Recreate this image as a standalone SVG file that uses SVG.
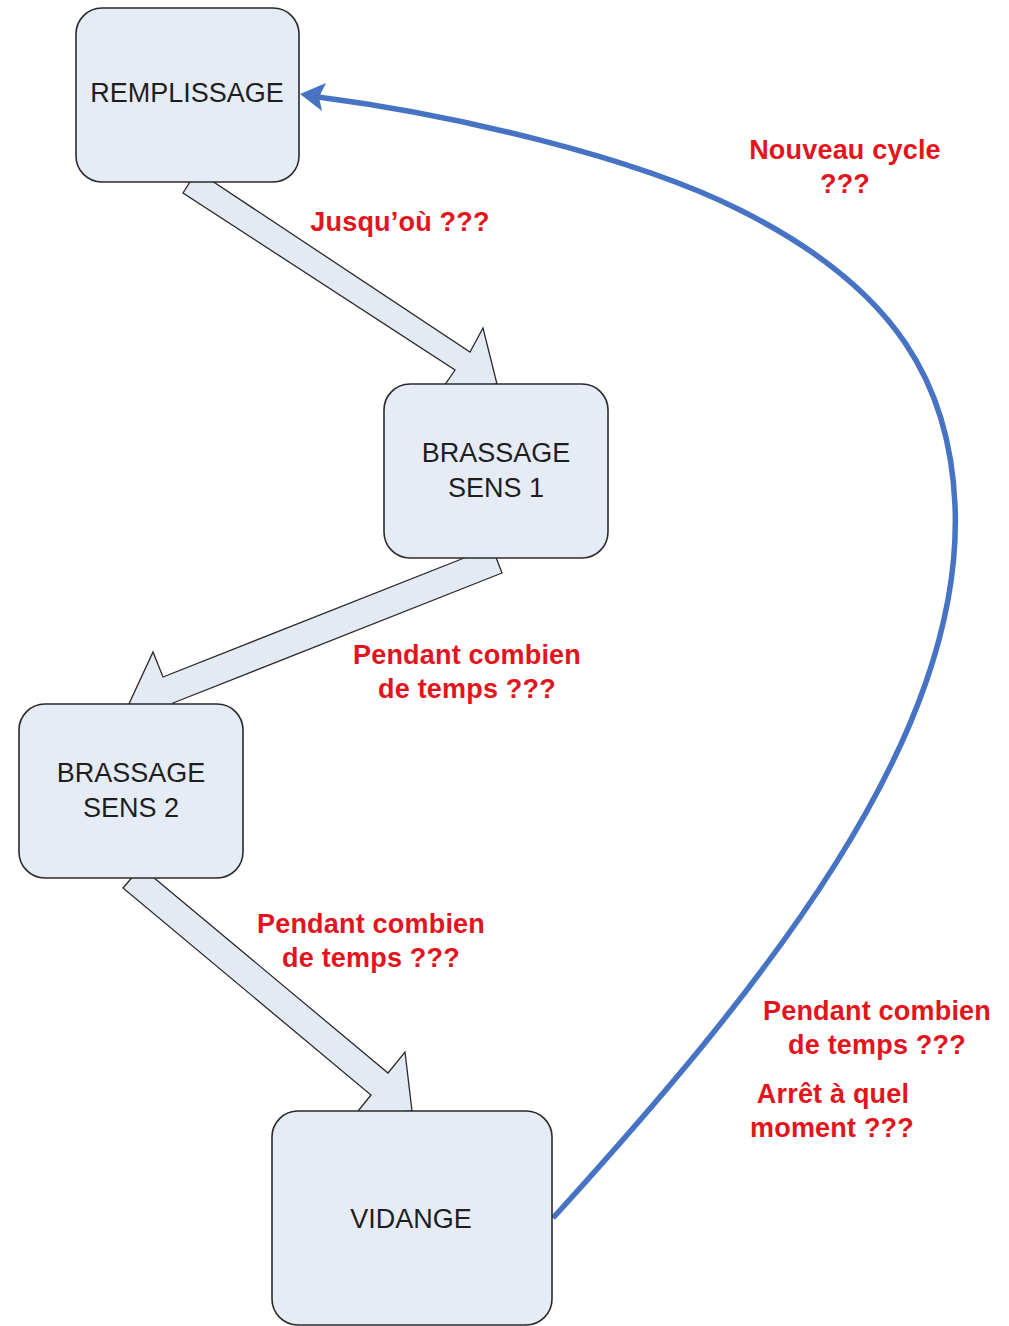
<svg xmlns="http://www.w3.org/2000/svg" width="1009" height="1326" viewBox="0 0 1009 1326">
  <style>
    .box { fill: #E6ECF6; stroke: #2A2A2A; stroke-width: 1.6; }
    .label { font-family: "Liberation Sans", Arial, sans-serif; font-size: 27px; fill: #1E1E1E; text-anchor: middle; }
    .block { fill: #E4EAF4; stroke: #2A2A2A; stroke-width: 1.3; stroke-linejoin: miter; }
    .loop { fill: none; stroke: #4673C3; stroke-width: 5.5; }
    .head { fill: #4673C3; }
    .note { font-family: "Liberation Sans", Arial, sans-serif; font-weight: bold; font-size: 27px; letter-spacing: 0.2px; fill: #E3141C; text-anchor: middle; }
  </style>
  <rect width="1009" height="1326" fill="#FFFFFF"/>

  <!-- connectors: block arrows between steps, and the return loop -->
  <g id="connectors">
    <polygon class="block" points="197,171 470,352 483,328 497,384 440,392 455,370 183,193"/>
    <polygon class="block" points="492,547 163,677 153,652 128,706 183,728 173,703 502,573"/>
    <polygon class="block" points="141,867 388,1073 405,1052 412,1111 354,1116 371,1095 123,888"/>
    <path class="loop" d="M553,1218 C760,990 965,740 955,505 C950,388 900,290 740,210 C633,156 450,114 318,97"/>
    <polygon class="head" points="300,94 326,83 319,97 322,111"/>
  </g>

  <!-- annotations -->
  <g id="notes">
    <text class="note" x="400" y="231">Jusqu’où ???</text>
    <text class="note" x="845" y="159">Nouveau cycle</text>
    <text class="note" x="845" y="193">???</text>
    <text class="note" x="467" y="664">Pendant combien</text>
    <text class="note" x="467" y="698">de temps ???</text>
    <text class="note" x="371" y="933">Pendant combien</text>
    <text class="note" x="371" y="967">de temps ???</text>
    <text class="note" x="877" y="1020">Pendant combien</text>
    <text class="note" x="877" y="1054">de temps ???</text>
    <text class="note" x="833" y="1103">Arrêt à quel</text>
    <text class="note" x="832" y="1137">moment ???</text>
  </g>

  <!-- process steps -->
  <g id="remplissage">
    <rect class="box" x="76" y="8" width="223" height="174" rx="26" ry="26"/>
    <text class="label" x="187" y="102">REMPLISSAGE</text>
  </g>
  <g id="brassage-sens-1">
    <rect class="box" x="384" y="384" width="224" height="174" rx="26" ry="26"/>
    <text class="label" x="496" y="462">BRASSAGE</text>
    <text class="label" x="496" y="497">SENS 1</text>
  </g>
  <g id="brassage-sens-2">
    <rect class="box" x="19" y="704" width="224" height="174" rx="26" ry="26"/>
    <text class="label" x="131" y="782">BRASSAGE</text>
    <text class="label" x="131" y="817">SENS 2</text>
  </g>
  <g id="vidange">
    <rect class="box" x="272" y="1111" width="280" height="214" rx="26" ry="26"/>
    <text class="label" x="411" y="1228">VIDANGE</text>
  </g>
</svg>
